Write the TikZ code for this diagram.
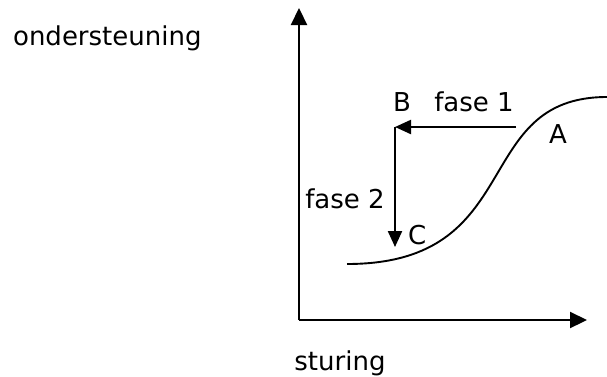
\documentclass[tikz,border=0pt]{standalone}
\usepackage{fontspec}
\setmainfont{DejaVu Sans}
\usetikzlibrary{arrows.meta}

\begin{document}
\begin{tikzpicture}[x=1pt,y=-1pt,>={Triangle[length=16pt,width=14pt]},line width=2.2pt,
    every node/.style={font=\fontsize{26}{31}\selectfont,inner sep=0pt},
    lbl/.style={anchor=base},
    axis/.style={-{Triangle[length=17pt,width=16pt]}}]
  \useasboundingbox (0,0) rectangle (607,376);
  % axes
  \coordinate (orig) at (299,320);
  \coordinate (ytop) at (299,8);
  \coordinate (xend) at (587,320);
  \draw[axis] (orig) -- (ytop);
  \draw[axis] (orig) -- (xend);
  \node[lbl,anchor=base west] (ylab) at (12,45) {ondersteuning};
  \node[lbl] (xlab) at (340,370) {sturing};
  % curve
  \draw[line width=1.9pt] (347,264) .. controls (528,264) and (469,97) .. (607,97);
  % phases
  \coordinate (start) at (516,127);
  \coordinate (corner) at (395,127);
  \coordinate (cend) at (395,247);
  \draw[->] (start) -- (corner);
  \draw[->] (corner) -- (cend);
  \node[lbl] (B) at (402,111) {B};
  \node[lbl] (f1) at (474,111) {fase 1};
  \node[lbl] (A) at (558,143) {A};
  \node[lbl] (f2) at (345,208) {fase 2};
  \node[lbl,anchor=base west] (C) at (407,244) {C};
\end{tikzpicture}
\end{document}
